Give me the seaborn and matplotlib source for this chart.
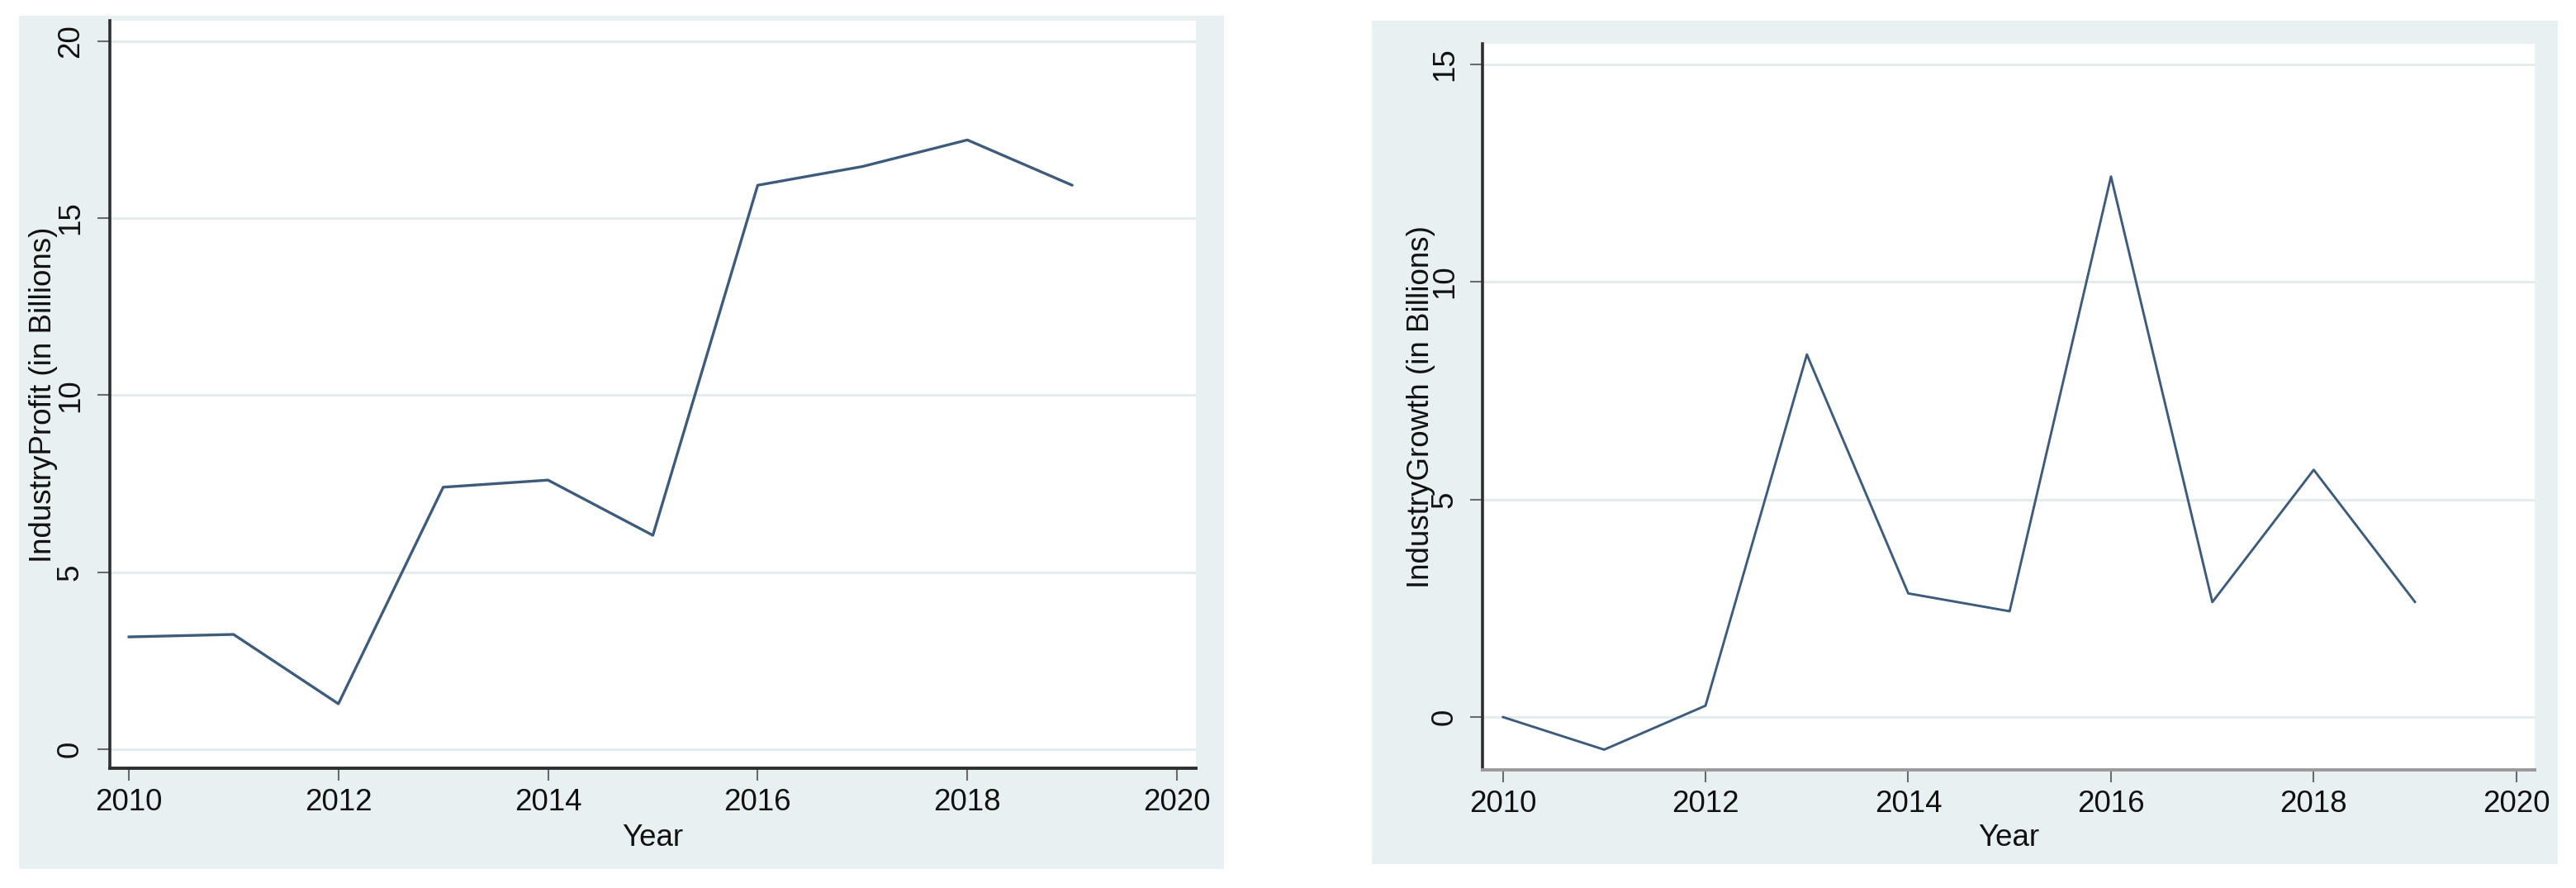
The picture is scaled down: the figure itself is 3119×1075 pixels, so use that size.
import numpy as np
import pandas as pd
import seaborn as sns
import matplotlib.pyplot as plt
from matplotlib.patches import Rectangle

# values
years = [2010, 2011, 2012, 2013, 2014, 2015, 2016, 2017, 2018, 2019]
profit = [3.17, 3.24, 1.28, 7.40, 7.60, 6.04, 15.93, 16.46, 17.21, 15.93]
growth = [0.0, -0.75, 0.26, 8.33, 2.84, 2.43, 12.42, 2.64, 5.68, 2.64]

x_ticks = [2010, 2012, 2014, 2016, 2018, 2020]
profit_ticks = [0, 5, 10, 15, 20]
growth_ticks = [0, 5, 10, 15]

W, H = 3119, 1075
BG = "#e9f0f2"
GRID = "#e4ebee"
LINE = "#3e5c7a"
FS = 26.5


def px_box(x0, y0, x1, y1):
    """ pixel box (top-left origin) -> figure fraction [l, b, w, h] """
    return [x0 / W, 1 - y1 / H, (x1 - x0) / W, (y1 - y0) / H]


def style_axis(ax, yticks, ylim, xlim, ylab, ylab_x, ypad, bottom_col):
    ax.set_xlim(*xlim)
    ax.set_ylim(*ylim)
    ax.set_xticks(x_ticks)
    ax.set_yticks(yticks)
    ax.set_yticklabels([str(t) for t in yticks])
    ax.grid(False)
    for t in yticks:
        ax.axhline(t, color=GRID, lw=2, zorder=0)
    for s in ["top", "right"]:
        ax.spines[s].set_visible(False)
    ax.spines["left"].set_color("#2e2e2e")
    ax.spines["left"].set_linewidth(2.6)
    ax.spines["bottom"].set_color(bottom_col)
    ax.spines["bottom"].set_linewidth(2.8)
    ax.tick_params(axis="both", bottom=True, left=True, direction="out",
                   length=10.8, width=1.5, color="#6a6a6a",
                   labelsize=FS, labelcolor="#111111")
    ax.tick_params(axis="x", pad=6.5)
    ax.tick_params(axis="y", labelrotation=90, pad=ypad)
    for lab in ax.get_yticklabels():
        lab.set_va("center")
    ax.set_xlabel("Year", fontsize=FS, color="#111111")
    ax.set_ylabel(ylab, fontsize=FS, color="#111111")
    ax.xaxis.set_label_coords(0.5, -0.074)
    ax.yaxis.set_label_coords(ylab_x, 0.5)


def main():
    sns.set_theme(style="white")
    plt.rcParams["font.family"] = ["Liberation Sans", "DejaVu Sans"]

    fig = plt.figure(figsize=(W / 100, H / 100), dpi=100)
    fig.patch.set_facecolor("white")

    # grey graph regions behind each panel
    for box in [px_box(23, 19, 1482, 1052), px_box(1661, 25, 3097, 1046)]:
        fig.patches.append(Rectangle((box[0], box[1]), box[2], box[3],
                                     transform=fig.transFigure,
                                     facecolor=BG, edgecolor="none", zorder=-10))

    ax1 = fig.add_axes(px_box(133, 25, 1448, 930))
    ax2 = fig.add_axes(px_box(1795, 53, 3069, 932))
    for ax in [ax1, ax2]:
        ax.set_facecolor("white")

    df = pd.DataFrame({"Year": years, "profit": profit, "growth": growth})
    sns.lineplot(data=df, x="Year", y="profit", ax=ax1, color=LINE, lw=2.4)
    sns.lineplot(data=df, x="Year", y="growth", ax=ax2, color=LINE, lw=2.1)

    style_axis(ax1, profit_ticks, (-0.54, 20.58), (2009.82, 2020.18),
               "IndustryProfit (in Billions)", -0.048, 10.8, "#2e2e2e")
    style_axis(ax2, growth_ticks, (-1.215, 15.47), (2009.80, 2020.18),
               "IndustryGrowth (in Billions)", -0.045, 9.4, "#9a9a9a")

    fig.savefig("out.png", dpi=100, facecolor="white")


if __name__ == "__main__":
    main()
